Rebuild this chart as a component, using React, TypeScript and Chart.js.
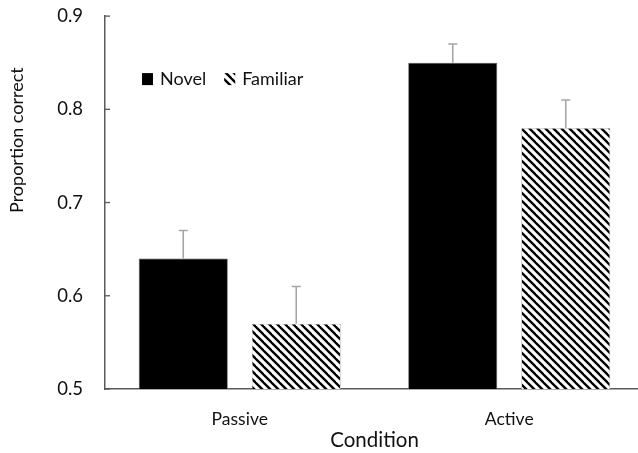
import React, { useEffect, useRef } from 'react';
import { Chart, registerables } from 'chart.js';

Chart.register(...registerables);

const categories = ['Passive', 'Active'];
const seriesLabels = ['Novel', 'Familiar'];
const novel = [0.64, 0.85];
const familiar = [0.57, 0.78];
const novelErr = [0.03, 0.02];
const familiarErr = [0.04, 0.03];
const yMin = 0.5;
const yMax = 0.9;
const yStep = 0.1;
const yTitle = 'Proportion correct';
const xTitle = 'Condition';

const FONT = 'Lato';
const TEXT = '#111111';
const AXIS = '#5a5a5a';
const ERR = '#a6a6a6';

function makeHatch(): CanvasPattern | string {
  const c = document.createElement('canvas');
  c.width = 8;
  c.height = 8;
  const g = c.getContext('2d');
  if (!g) return '#888';
  g.fillStyle = '#ffffff';
  g.fillRect(0, 0, 8, 8);
  g.strokeStyle = '#000000';
  g.lineWidth = 2.3;
  for (const k of [-8, 0, 8]) {
    g.beginPath();
    g.moveTo(k - 1, -1);
    g.lineTo(k + 9, 9);
    g.stroke();
  }
  const p = g.createPattern(c, 'repeat');
  return p || '#888';
}

const errorBarsPlugin = {
  id: 'errorBars',
  afterDatasetsDraw(chart: any) {
    const ctx = chart.ctx;
    const yScale = chart.scales.y;
    chart.data.datasets.forEach((ds: any, d: number) => {
      const meta = chart.getDatasetMeta(d);
      const errs: number[] = ds.errors || [];
      meta.data.forEach((bar: any, i: number) => {
        const v = ds.data[i];
        const e = errs[i];
        if (e == null) return;
        const yTop = yScale.getPixelForValue(v + e);
        ctx.save();
        ctx.strokeStyle = ERR;
        ctx.lineWidth = 1.6;
        ctx.beginPath();
        ctx.moveTo(bar.x, bar.y);
        ctx.lineTo(bar.x, yTop);
        ctx.moveTo(bar.x - 4.5, yTop);
        ctx.lineTo(bar.x + 4.5, yTop);
        ctx.stroke();
        ctx.restore();
      });
    });
  },
};

const decorPlugin = {
  id: 'decor',
  afterDraw(chart: any) {
    const ctx = chart.ctx;
    const area = chart.chartArea;
    const yScale = chart.scales.y;
    ctx.save();
    // inner tick marks on y axis
    ctx.strokeStyle = AXIS;
    ctx.lineWidth = 1.3;
    yScale.ticks.forEach((t: any) => {
      const y = yScale.getPixelForValue(t.value);
      ctx.beginPath();
      ctx.moveTo(area.left, y);
      ctx.lineTo(area.left + 5, y);
      ctx.stroke();
    });
    // y title
    ctx.fillStyle = TEXT;
    ctx.font = `18px ${FONT}`;
    ctx.textAlign = 'center';
    ctx.textBaseline = 'middle';
    ctx.save();
    ctx.translate(17, area.top + 124);
    ctx.rotate(-Math.PI / 2);
    ctx.fillText(yTitle, 0, 0);
    ctx.restore();
    // x title
    ctx.font = `20.5px ${FONT}`;
    ctx.fillText(xTitle, (area.left + area.right) / 2, area.bottom + 51);
    // legend
    ctx.font = `18px ${FONT}`;
    ctx.textAlign = 'left';
    let x = area.left + 37;
    const y = area.top + 57;
    chart.data.datasets.forEach((ds: any) => {
      ctx.fillStyle = ds.backgroundColor;
      ctx.fillRect(x, y, 11, 12);
      ctx.fillStyle = TEXT;
      ctx.fillText(ds.label, x + 18, y + 6.5);
      x += 18 + ctx.measureText(ds.label).width + 18;
    });
    ctx.restore();
  },
};

export default function App() {
  const ref = useRef<HTMLCanvasElement | null>(null);
  useEffect(() => {
    if (!ref.current) return;
    const hatch = makeHatch();
    const chart = new Chart(ref.current, {
      type: 'bar',
      data: {
        labels: categories,
        datasets: [
          {
            label: seriesLabels[0],
            data: novel,
            errors: novelErr,
            backgroundColor: '#000000',
            borderColor: '#555555',
            borderWidth: 0.8,
            categoryPercentage: 0.8386,
            barPercentage: 0.788,
          } as any,
          {
            label: seriesLabels[1],
            data: familiar,
            errors: familiarErr,
            backgroundColor: hatch,
            borderColor: '#bbbbbb',
            borderWidth: 0.8,
            categoryPercentage: 0.8386,
            barPercentage: 0.788,
          } as any,
        ],
      },
      options: {
        responsive: false,
        animation: false,
        devicePixelRatio: 1,
        layout: { padding: { top: 0, right: 16, left: 0, bottom: 0 } },
        plugins: {
          legend: { display: false },
          tooltip: { enabled: false },
        },
        scales: {
          x: {
            grid: { display: false, drawTicks: false },
            border: { display: true, color: AXIS, width: 1.5 },
            ticks: {
              padding: 20,
              color: TEXT,
              font: { family: FONT, size: 17.5 },
            },
            afterFit(scale: any) {
              scale.height = 64;
            },
          },
          y: {
            min: yMin,
            max: yMax,
            grid: { display: false, drawTicks: false },
            border: { display: true, color: AXIS, width: 1.5 },
            ticks: {
              stepSize: yStep,
              padding: 22,
              color: TEXT,
              font: { family: FONT, size: 18.5 },
              callback: (v: any) => Number(v).toFixed(1),
            },
            afterFit(scale: any) {
              scale.width = 105;
            },
          },
        },
      },
      plugins: [errorBarsPlugin, decorPlugin],
    });
    return () => chart.destroy();
  }, []);
  return (
    <div
      style={{
        position: 'absolute',
        left: 0,
        top: 0,
        width: 638,
        height: 453,
        overflow: 'hidden',
        background: '#fff',
      }}
    >
      <canvas
        ref={ref}
        width={660}
        height={470}
        style={{ display: 'block', width: 660, height: 470, marginTop: -17 }}
      />
    </div>
  );
}
